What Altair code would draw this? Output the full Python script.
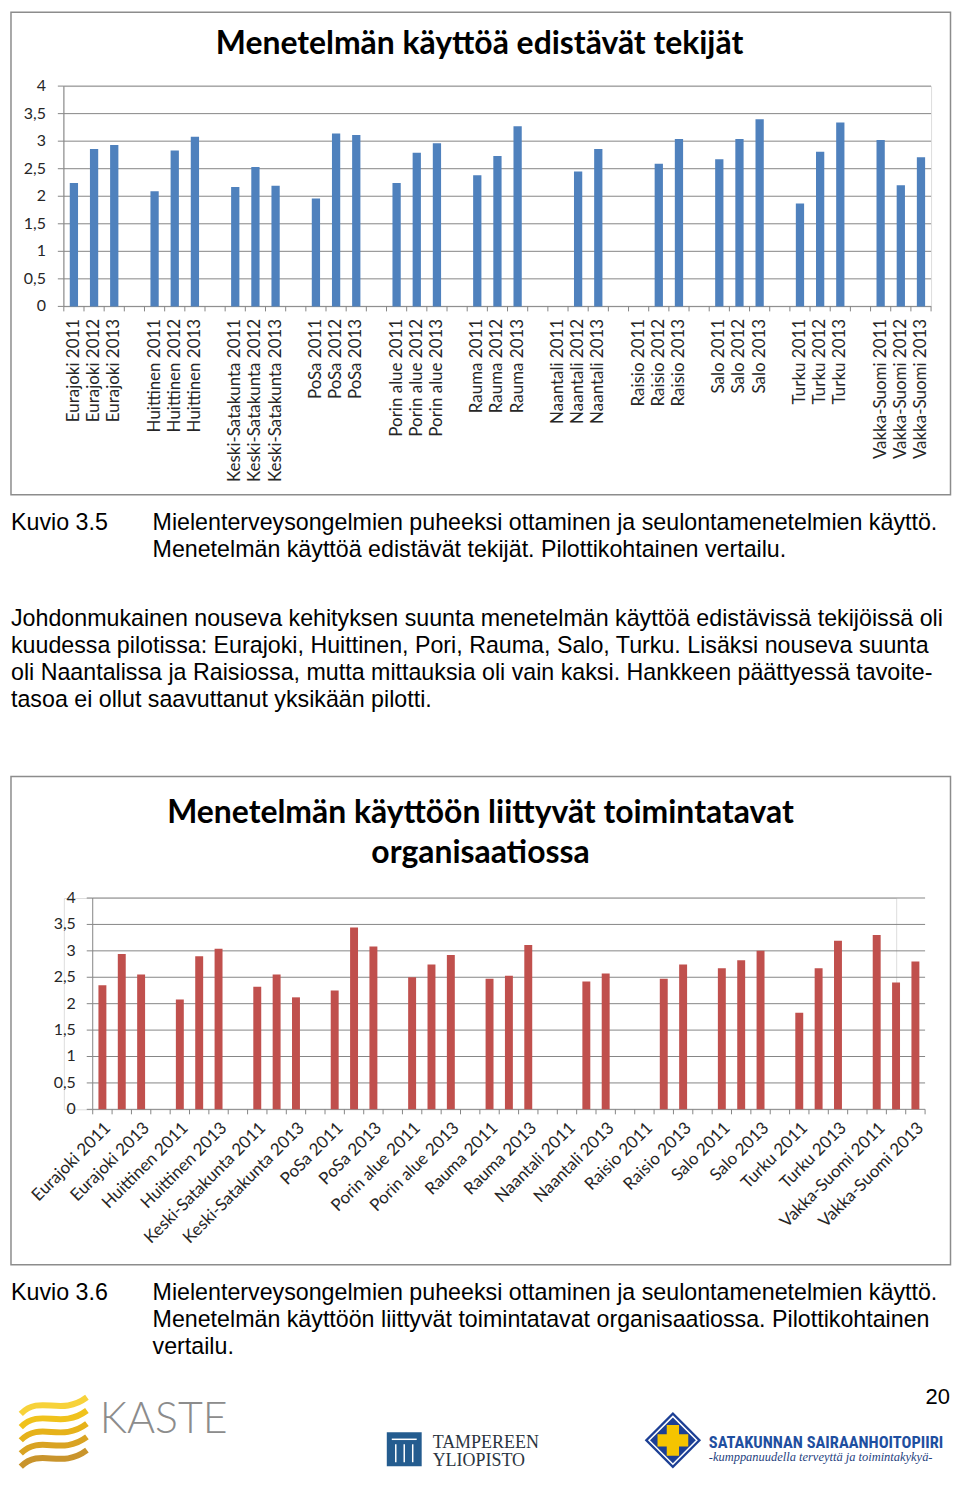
import altair as alt
import pandas as pd

# ---------------- data ----------------
pilots = ["Eurajoki", "Huittinen", "Keski-Satakunta", "PoSa", "Porin alue", "Rauma",
          "Naantali", "Raisio", "Salo", "Turku", "Vakka-Suomi"]
years = ["2011", "2012", "2013"]

# Kuvio 3.5  Menetelmän käyttöä edistävät tekijät (None = no measurement)
fig1_values = [
    [2.24, 2.86, 2.93],
    [2.09, 2.83, 3.08],
    [2.17, 2.53, 2.19],
    [1.96, 3.14, 3.11],
    [2.24, 2.79, 2.96],
    [2.38, 2.73, 3.27],
    [None, 2.45, 2.86],
    [None, 2.59, 3.04],
    [2.67, 3.04, 3.40],
    [1.87, 2.81, 3.34],
    [3.02, 2.20, 2.71],
]

# Kuvio 3.6  Menetelmän käyttöön liittyvät toimintatavat organisaatiossa
fig2_values = [
    [2.35, 2.94, 2.55],
    [2.08, 2.90, 3.04],
    [2.32, 2.55, 2.12],
    [2.25, 3.44, 3.08],
    [2.50, 2.74, 2.92],
    [2.47, 2.53, 3.11],
    [None, 2.42, 2.57],
    [None, 2.47, 2.74],
    [2.67, 2.82, 3.00],
    [1.83, 2.67, 3.19],
    [3.30, 2.40, 2.80],
]

y_tick_values = [0, 0.5, 1, 1.5, 2, 2.5, 3, 3.5, 4]
y_tick_labels = ["0", "0,5", "1", "1,5", "2", "2,5", "3", "3,5", "4"]

title1 = "Menetelmän käyttöä edistävät tekijät"
title2 = ["Menetelmän käyttöön liittyvät toimintatavat", "organisaatiossa"]

caption1 = ["Mielenterveysongelmien puheeksi ottaminen ja seulontamenetelmien käyttö.",
            "Menetelmän käyttöä edistävät tekijät. Pilottikohtainen vertailu."]
paragraph = [
    "Johdonmukainen nouseva kehityksen suunta menetelmän käyttöä edistävissä tekijöissä oli",
    "kuudessa pilotissa: Eurajoki, Huittinen, Pori, Rauma, Salo, Turku. Lisäksi nouseva suunta",
    "oli Naantalissa ja Raisiossa, mutta mittauksia oli vain kaksi. Hankkeen päättyessä tavoite-",
    "tasoa ei ollut saavuttanut yksikään pilotti.",
]
caption2 = ["Mielenterveysongelmien puheeksi ottaminen ja seulontamenetelmien käyttö.",
            "Menetelmän käyttöön liittyvät toimintatavat organisaatiossa. Pilottikohtainen",
            "vertailu."]

# ---------------- styling ----------------
BLUE = "#4F81BD"
RED = "#C0504D"
GRID = "#868686"
BORDER = "#8c8c8c"
LABEL = "#262626"
AXF = "Lato, 'Open Sans', sans-serif"
BODY = "'Liberation Sans', Arial, sans-serif"
BODY_SIZE = 23.3


def build_table(values):
    rows, cats = [], []
    for i, (p, vals) in enumerate(zip(pilots, values)):
        for yr, v in zip(years, vals):
            c = f"{p} {yr}"
            cats.append(c)
            if v is not None:
                rows.append({"cat": c, "v": float(v)})
        if i < len(pilots) - 1:
            cats.append(f"_g{i}")
    return pd.DataFrame(rows), cats


def one():
    return pd.DataFrame({"t": ["x"]})


def txt(s, x, y, size, font=BODY, weight="normal", color="#000000", align="left", style="normal"):
    return alt.Chart(pd.DataFrame({"t": [s]})).mark_text(
        align=align, baseline="alphabetic", font=font, fontSize=size,
        fontWeight=weight, fontStyle=style, color=color
    ).encode(text="t:N", x=alt.value(x), y=alt.value(y))


def box(x1, x2, y1, y2):
    return alt.Chart(one()).mark_rect(fill="transparent", stroke=BORDER, strokeWidth=1.5).encode(
        x=alt.value(x1), x2=alt.value(x2), y=alt.value(y1), y2=alt.value(y2))


def frame(x1, x2, y1, y2):
    return alt.Chart(one()).mark_rect(fill="transparent", strokeWidth=0).encode(
        x=alt.value(x1), x2=alt.value(x2), y=alt.value(y1), y2=alt.value(y2))


def vrule(x, y1, y2, color=GRID, width=1):
    return alt.Chart(one()).mark_rule(color=color, strokeWidth=width).encode(
        x=alt.value(x), y=alt.value(y1), y2=alt.value(y2))


def bar_chart(values, color, W, H, dx, label_angle, label_size, label_expr, label_pad, ylab_gap):
    """Bar panel whose plot area starts dx pixels right of the panel origin."""
    df, cats = build_table(values)
    xscale = alt.Scale(domain=cats, paddingInner=0.59, paddingOuter=0.295)
    yscale = alt.Scale(domain=[0, 4], nice=False)
    step = W / len(cats)
    ticks_df = pd.DataFrame({"pos": y_tick_values, "lab": y_tick_labels})

    grid = alt.Chart(ticks_df).mark_rule(color=GRID).encode(
        y=alt.Y("pos:Q", scale=yscale, axis=None), x=alt.value(dx), x2=alt.value(dx + W))
    yticks = alt.Chart(ticks_df).mark_rule(color=GRID).encode(
        y=alt.Y("pos:Q", scale=yscale, axis=None), x=alt.value(dx - 6), x2=alt.value(dx))
    ylabels = alt.Chart(ticks_df).mark_text(
        align="right", baseline="middle", font=AXF, fontSize=16, color=LABEL
    ).encode(y=alt.Y("pos:Q", scale=yscale, axis=None), x=alt.value(dx - ylab_gap), text="lab:N")
    ydomain = vrule(dx, 0, H)

    bars = alt.Chart(df).mark_bar(color=color, xOffset=dx).encode(
        x=alt.X("cat:N", scale=xscale,
                axis=alt.Axis(title=None, labelAngle=label_angle, labelFont=AXF,
                              labelFontSize=label_size, labelColor=LABEL, labelLimit=400,
                              labelPadding=label_pad, labelExpr=label_expr, labelOffset=dx,
                              ticks=False, domain=False)),
        y=alt.Y("v:Q", scale=yscale, stack=False, axis=None),
    )
    # category boundary ticks below the x axis (Excel style)
    bticks = alt.Chart(pd.DataFrame({"cat": cats})).mark_rule(
        color=GRID, xOffset=dx - step / 2).encode(
        x=alt.X("cat:N", scale=xscale), y=alt.value(H), y2=alt.value(H + 5))
    end_tick = vrule(dx + W, H, H + 5)
    return [grid, yticks, ydomain, bars, bticks, end_tick, ylabels]


# ---------------- chart 1 ----------------
W1, H1 = 870, 221
layers1 = [frame(-53.75, 890.25, -74.75, 650), box(-53, 889.5, -74, 410)]
layers1 += bar_chart(fig1_values, BLUE, W1, H1, 0, 270, 17,
                     "indexof(datum.value, '_g') == 0 ? '' : datum.value", 12, 18)
layers1 += [
    txt(title1, 417, -32, 32, font=AXF, weight="bold", align="center"),
    txt("Kuvio 3.5", -53, 445, BODY_SIZE),
    txt(caption1[0], 89, 445, BODY_SIZE),
    txt(caption1[1], 89, 472, BODY_SIZE),
]
for i, line in enumerate(paragraph):
    layers1.append(txt(line, -53, 542 + i * 27, BODY_SIZE))

chart1 = alt.layer(*layers1).properties(width=W1, height=H1)

# ---------------- chart 2 ----------------
W2, H2 = 835, 212
DX = 29  # chart 2 plot area starts 29 px right of chart 1's
layers2 = [frame(-53.75, 890.25, -122.75, 560), box(-53, 889.5, -122, 368)]
layers2 += bar_chart(
    fig2_values, RED, W2, H2, DX, 315, 17,
    "indexof(datum.value, '_g') == 0 || indexof(datum.value, '2012') >= 0 ? '' : datum.value",
    10, 17)

kaste_colors = ["#f7d23a", "#f0c21c", "#e6b21a", "#d9a322", "#c9942c"]
kaste_layers = []
for k, col in enumerate(kaste_colors):
    y0 = -0.8 + 0.4 * k
    path = f"M-1,{y0 + 0.3:.2f} C-0.4,{y0 - 0.3:.2f} 0.2,{y0 + 0.4:.2f} 1,{y0 - 0.2:.2f}"
    kaste_layers.append(
        alt.Chart(one()).mark_point(shape=path, size=4400, strokeWidth=6, color=col, opacity=1)
        .encode(x=alt.value(-10), y=alt.value(534)))

tay_rect = alt.Chart(one()).mark_rect(fill="#245c8f").encode(
    x=alt.value(324), x2=alt.value(359), y=alt.value(536), y2=alt.value(570))
tay_lines = [vrule(xx, 548, 566, color="white", width=1.5) for xx in (333, 341.5, 350)] + [
    alt.Chart(one()).mark_rule(color="white", strokeWidth=1.5).encode(
        x=alt.value(329), x2=alt.value(354), y=alt.value(543))
]

ssp_diamond = alt.Chart(one()).mark_point(shape="diamond", size=3200, filled=True,
                                          color="#1c3f95", opacity=1).encode(
    x=alt.value(611), y=alt.value(544))
ssp_inner = alt.Chart(one()).mark_point(shape="diamond", size=2300, filled=False,
                                        color="white", strokeWidth=1.5, opacity=1).encode(
    x=alt.value(611), y=alt.value(544))
ssp_cross = alt.Chart(one()).mark_point(shape="cross", size=950, filled=True,
                                        color="#f5c400", opacity=1).encode(
    x=alt.value(611), y=alt.value(544))

layers2 += [
    txt(title2[0], 418, -75, 32, font=AXF, weight="bold", align="center"),
    txt(title2[1], 418, -35, 32, font=AXF, weight="bold", align="center"),
    txt("Kuvio 3.6", -53, 403, BODY_SIZE),
]
for i, line in enumerate(caption2):
    layers2.append(txt(line, 89, 403 + i * 27, BODY_SIZE))
layers2 += [
    txt("20", 889, 508, 22, align="right"),
    txt("KASTE", 36, 537, 43, font="Lato, sans-serif", weight=300, color="#8c8c8c"),
    tay_rect, *tay_lines,
    txt("TAMPEREEN", 370, 552, 18, font="'Liberation Serif', 'DejaVu Serif', serif", color="#2a3440"),
    txt("YLIOPISTO", 370, 570, 18, font="'Liberation Serif', 'DejaVu Serif', serif", color="#2a3440"),
    ssp_diamond, ssp_inner, ssp_cross,
    txt("SATAKUNNAN SAIRAANHOITOPIIRI", 647, 552, 16.5,
        font="'Liberation Sans Narrow', 'Roboto Condensed', Roboto, sans-serif", weight="bold",
        color="#1f4fa0"),
    txt("-kumppanuudella terveyttä ja toimintakykyä-", 647, 565, 12.5,
        font="'Liberation Serif', serif", style="italic", color="#1f3f80"),
] + kaste_layers

chart2 = alt.layer(*layers2).properties(width=W2, height=H2)

chart = alt.vconcat(chart1, chart2, spacing=39.5).properties(
    padding=0
).configure_view(stroke="transparent").configure(background="white")

chart.save("out.html", embed_options={"renderer": "svg", "actions": False})
